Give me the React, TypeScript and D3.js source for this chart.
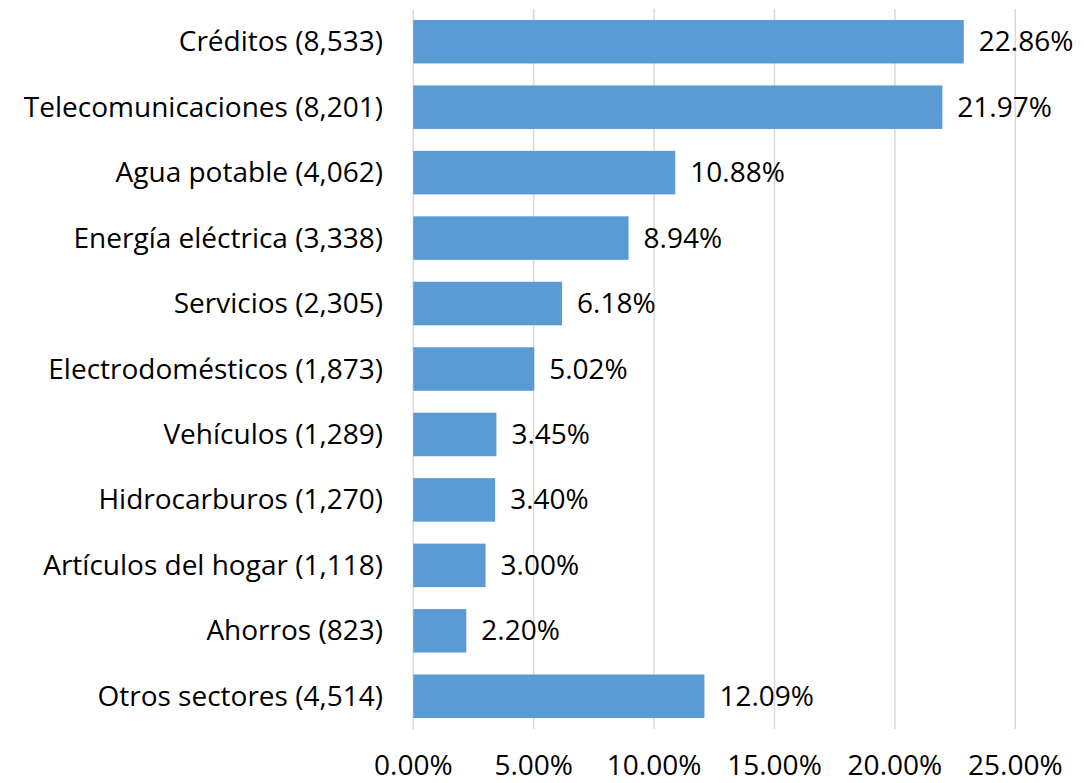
import React from "react";
import * as d3 from "d3";

const categories = [
  "Créditos (8,533)",
  "Telecomunicaciones (8,201)",
  "Agua potable (4,062)",
  "Energía eléctrica (3,338)",
  "Servicios (2,305)",
  "Electrodomésticos (1,873)",
  "Vehículos (1,289)",
  "Hidrocarburos (1,270)",
  "Artículos del hogar (1,118)",
  "Ahorros (823)",
  "Otros sectores (4,514)",
];
const values = [22.86, 21.97, 10.88, 8.94, 6.18, 5.02, 3.45, 3.4, 3.0, 2.2, 12.09];
const ticks = [0, 5, 10, 15, 20, 25];

const W = 1084;
const H = 783;
const left = 413.3;
const right = 1015.3;
const top = 9;
const bottom = 729;
const FONT = "'Open Sans', sans-serif";
const FS = 28;

export default function App() {
  const x = d3.scaleLinear().domain([0, 25]).range([left, right]);
  const y = d3
    .scaleBand<string>()
    .domain(categories)
    .range([top, bottom])
    .paddingInner(0.335)
    .paddingOuter(0.1675);

  return (
    <svg
      width={W}
      height={H}
      style={{ position: "absolute", left: 0, top: 0, background: "#fff" }}
      fontFamily={FONT}
    >
      {ticks.map((t) => (
        <g key={t}>
          <line x1={x(t)} x2={x(t)} y1={top} y2={bottom} stroke="#D9D9D9" strokeWidth={1.5} />
          <text x={x(t)} y={775} textAnchor="middle" fontSize={FS} fill="#000">
            {t.toFixed(2)}%
          </text>
        </g>
      ))}
      {categories.map((c, i) => {
        const yy = y(c)!;
        const bw = y.bandwidth();
        return (
          <g key={c}>
            <rect x={x(0)} y={yy} width={x(values[i]) - x(0)} height={bw} fill="#5B9BD5" />
            <text
              x={383}
              y={yy + bw / 2}
              dy="0.34em"
              textAnchor="end"
              fontSize={FS}
              fill="#000"
            >
              {c}
            </text>
            <text x={x(values[i]) + 15} y={yy + bw / 2} dy="0.34em" fontSize={FS} fill="#000">
              {values[i].toFixed(2)}%
            </text>
          </g>
        );
      })}
    </svg>
  );
}
